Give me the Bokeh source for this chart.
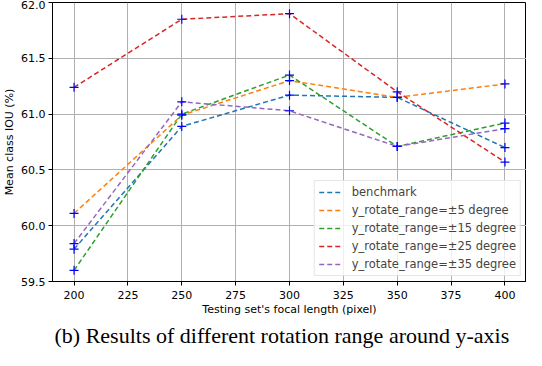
from bokeh.plotting import figure
from bokeh.models import FixedTicker, PrintfTickFormatter, Range1d, Legend, LegendItem, Title
from bokeh.embed import file_html
from bokeh.resources import INLINE

focal = [200, 250, 300, 350, 400]
benchmark = [59.79, 60.89, 61.17, 61.15, 60.70]
rot5 = [60.11, 60.99, 61.30, 61.15, 61.27]
rot15 = [59.60, 61.00, 61.35, 60.71, 60.92]
rot25 = [61.24, 61.85, 61.90, 61.20, 60.57]
rot35 = [59.84, 61.11, 61.03, 60.71, 60.87]
series = [benchmark, rot5, rot15, rot25, rot35]
labels = ["benchmark", "y_rotate_range=±5 degree", "y_rotate_range=±15 degree",
          "y_rotate_range=±25 degree", "y_rotate_range=±35 degree"]
colors = ["#1f77b4", "#ff7f0e", "#2ca02c", "#d62728", "#9467bd"]
x_ticks = [200, 225, 250, 275, 300, 325, 350, 375, 400]
y_ticks = [59.5, 60.0, 60.5, 61.0, 61.5, 62.0]

FONT = "DejaVu Sans"

p = figure(width=526, height=350, output_backend="svg", toolbar_location=None,
           x_range=Range1d(190, 410), y_range=Range1d(59.5, 62.0),
           min_border_left=30, min_border_right=0, min_border_top=2, min_border_bottom=0)

items = []
for vals, lab, col in zip(series, labels, colors):
    r = p.line(focal, vals, line_color=col, line_width=1.5, line_dash="5 3")
    p.scatter(focal, vals, marker="cross", size=9, line_color="blue", line_width=1.2)
    items.append(LegendItem(label=lab, renderers=[r]))

legend = Legend(items=items, location="bottom_right")
legend.label_text_font = FONT
legend.label_text_font_size = "11.5px"
legend.glyph_width = 23
legend.glyph_height = 12
legend.spacing = 4
legend.padding = 4
legend.margin = 5
legend.label_standoff = 10
legend.border_line_color = "#cccccc"
legend.border_line_width = 1
legend.background_fill_alpha = 0.8
p.add_layout(legend)

p.xaxis.ticker = FixedTicker(ticks=x_ticks)
p.yaxis.ticker = FixedTicker(ticks=y_ticks)
p.yaxis.formatter = PrintfTickFormatter(format="%.1f")
for ax in (p.xaxis, p.yaxis):
    ax.major_label_text_font = FONT
    ax.major_label_text_font_size = "11px"
    ax.major_label_text_color = "black"
    ax.axis_label_text_font = FONT
    ax.axis_label_text_font_size = "11px"
    ax.axis_label_text_font_style = "normal"
    ax.axis_label_text_color = "black"
    ax.axis_line_color = "black"
    ax.major_tick_line_color = "black"
    ax.major_tick_out = 4
    ax.major_tick_in = 0
    ax.minor_tick_line_color = None
p.xaxis.major_label_standoff = 5
p.xaxis.axis_label_standoff = 1
p.yaxis.major_label_standoff = 3
p.yaxis.axis_label_standoff = 2
p.xaxis.axis_label = "Testing set's focal length (pixel)"
p.yaxis.axis_label = "Mean class IOU (%)"

p.grid.grid_line_color = "#b0b0b0"
p.grid.grid_line_width = 1
p.outline_line_color = "black"
p.outline_line_width = 1

cap = Title(text="(b) Results of different rotation range around y-axis", align="left",
            text_font="Liberation Serif", text_font_size="22px", text_font_style="normal",
            text_color="black", offset=2, standoff=5)
p.add_layout(cap, "below")

open("out.html", "w").write(file_html(p, INLINE))
